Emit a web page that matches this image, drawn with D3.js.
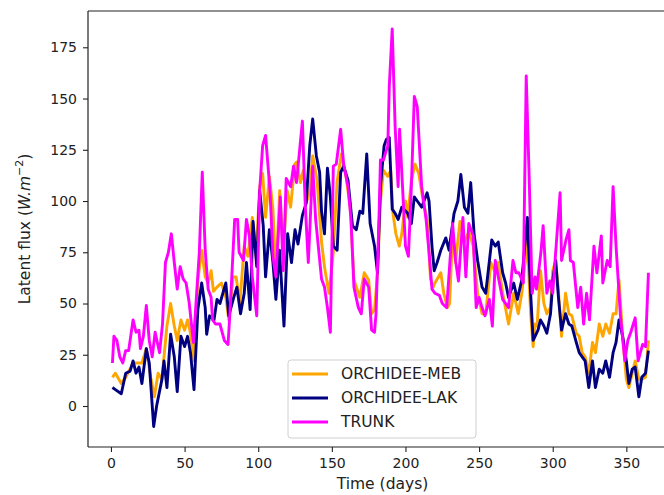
<!DOCTYPE html>
<html>
<head>
<meta charset="utf-8">
<script src="https://cdn.jsdelivr.net/npm/d3@7"></script>
<style>
  body { margin: 0; background: #fff; }
  text { font-family: "DejaVu Sans", sans-serif; fill: #222; }
</style>
</head>
<body>
<div id="chart"></div>
<script>
var width = 664,
    height = 495;

// ORCHIDEE-MEB (orange)
var mebDays = [1,3,7,10,15,18,21,24,27,29.5,32,34.6,36.4,38,40.5,43,45,47.5,50,52,54,56.4,59,61.6,64,66,68,69.6,72,75,78,80,83,85,87.5,90.5,93,96,98.5,101,103,105,107.6,110,112,114.6,117,119.7,122,124.8,126,128.7,130.6,133,135,137,140,143,145,148,151,153.5,156.5,159.6,162.6,165,169,172,175,177,179,181,183,185,188,190,191.5,193.5,195.8,197.5,200,201.5,204,206.5,209,212,214.7,217,218.8,220,224,226,228.5,230,232,234,237,240,243,246,249,252,254.5,258,261,263,266,270,273.5,276.6,279,282.8,285,286.7,288,289.4,291.7,294,296,298.5,300,302,304,306,308.7,311,313,316,318,320,322,324.5,327,329,331.6,334,336,338.6,341,343,345,347.5,350,351.7,354,356,358.5,360.5,363,365];
var mebVals = [14,16,11,14,21,21,21,28,14,4.5,16,13,27,39,50,39,32,42,37,42,35.5,22,61.5,76,63,60,66,56,58,60,53,42,63,63,50,78,73,92,73,107,113.5,92,112,96,63,105,76,105,97,118,119,109,115,100,105,122,110,80,68,55,75,109,123,112,96,61.5,53,65,61.5,45,47,65,100,115,112,115,94,84,78,84,100,92,110,118,113.5,100,91,62,58,60,65,55,48,50,85,70,90,80,85,78,55,45,45,70,65,70,55,40,55,45,55,80,45,29,40,39,66,50,45,48,66,71,55,34,55,45,44,35.5,34,26,24,16,31,26,40,34,40,35.5,45,45,61.5,34,13,9,16,22,13,13,14,32];

// ORCHIDEE-LAK (navy)
var lakDays = [1,3,7,10,13,15,17,19,21,24,26,29,31,34.6,36,38,40.5,43,45,47.5,50,52,54,56.4,59,61.6,64,65,67,70,72,74,78,80,83,85.5,88,90.5,92,94.5,96.5,99,101,103.4,105,107.6,110,112,114.5,117.5,120,122.6,125,127,130,132.6,135,137,139.5,141.7,143,145,147,149,151,153.6,156,158,161,164,166.6,169,171,173.7,176,179,181,183,185.5,187,189,191,193,195,197.5,201.5,204,206,208,211,214.7,216,218,219.5,221.5,224,227.4,229.6,233,235.6,237.6,240,242.4,244.3,246.6,249,252,254.5,258.6,261,263,266,268,270,273.5,276,279,282.8,285,286.7,288,290,291.7,294,296,298.5,300.3,302,304,306,308.7,311,313,316,318,320,322,324.5,327,329,331.6,334,336,338.6,341,343,345,347.5,350,351.7,354,356,358.5,360.5,363,365];
var lakVals = [9,8,6,16,17,22,16,19,11,28,21,-10,0,13,22,9,35,24,7,34,29,34,26,8,47,60,48,35,44,42,52,50,60,44,52,58,45,55,70,47,90,68,105,88,63,86,70,52,76,39,84,70,86,79,93,99,127,140,122,114,95,84,116,102,78,76,114,117,110,88,86,95,94,123,89,78,65,107,127,130,131,96,94,91,97,94,89,102,100,97,104,100,78,66,70,76,82,76,94,100,113,97,94,109,84,71,58,55,81,78,80,65,60,53,60,52,61.5,92,55,32,34,37,42,39,35.5,45,63,71,52,37,45,40,39,31,26,24,22,9,22,9,18,16,22,14,26,31,42,34,22,11,18,19,4.5,14,16,27];

// TRUNK (magenta)
var trunkDays = [1,2,4,6,8,10,12,15,17,19,20,22,24,26,28,30,33,35,37,39,41,43,45,47,49,51,53,56,57,60,62,64,66,68,69,71,74,77,79.5,81,84,86,87,90,92,94,96,99,101,103,105,108,110,112,115,117,119,122,124,126,130,132,134,137,139,143,145,147,149,151,153,156,158,161,163,165,168,170,172,175,177,179,180,182,183,185,188,189,191,193,195,196,198,200,202,204,206,208,211,214,216,218,220,223,225,228,232,234,236,239,241,243,246,248,250,252,254,257,259,261,263,266,268,270,273,275,277,280,282,284,286,288,289,292,293.5,296,298,300,302,305,306,309,311,312,314,317,319,321,323,325,328,330,333,334,337,339,341,343,346,349,351,353,356,358,361,363,365];
var trunkVals = [21,34,32,24,21,27,27,42,36,37,28,34,49,32,24,36,26,40,70,75,84,70,57,68,62,60,51,31,42,75,114,76,57,53,42,40,40,32,30,48,91,91,75,71,91,83,63,44,105,127,132,105,73,63,102,66,111,107,117,109,139,97,70,117,91,62,58,48,36,117,118,135,118,107,91,58,48,45,62,58,37,36,45,91,120,120,127,156,184,136,107,135,107,78,73,107,151,146,107,91,75,57,55,54,50,48,89,71,61,92,63,89,83,48,53,48,44,52,39,71,63,52,50,48,71,65,65,60,161,112,55,63,57,75,88,55,61,55,75,104,71,81,86,71,70,48,58,40,55,42,78,65,83,60,71,68,107,78,44,22,32,36,43,22,30,29,65];

var seriesNames = ["ORCHIDEE-MEB", "ORCHIDEE-LAK", "TRUNK"];
var seriesColors = ["#ffa500", "#000080", "#ff00ff"];
var xTicks = [0, 50, 100, 150, 200, 250, 300, 350];
var yTicks = [0, 25, 50, 75, 100, 125, 150, 175];

var series = [
    {name: seriesNames[0], color: seriesColors[0], pts: d3.zip(mebDays, mebVals)},
    {name: seriesNames[1], color: seriesColors[1], pts: d3.zip(lakDays, lakVals)},
    {name: seriesNames[2], color: seriesColors[2], pts: d3.zip(trunkDays, trunkVals)}
];

var plotL = 88, plotT = 11, plotB = 447, plotR = 677;

var svg = d3.select("#chart")
    .append("svg")
    .attr("width", width)
    .attr("height", height);

var x = d3.scaleLinear().domain([-15.6, 384.4]).range([plotL, plotR]);
var y = d3.scaleLinear().domain([-20, 192.7]).range([plotB, plotT]);

svg.append("defs").append("clipPath").attr("id", "plot")
    .append("rect")
    .attr("x", plotL).attr("y", plotT)
    .attr("width", plotR - plotL).attr("height", plotB - plotT);

var line = d3.line()
    .x(function(d) { return x(d[0]); })
    .y(function(d) { return y(d[1]); });

svg.append("g")
    .attr("clip-path", "url(#plot)")
    .selectAll("path")
    .data(series)
    .enter()
    .append("path")
    .attr("d", function(d) { return line(d.pts); })
    .attr("fill", "none")
    .attr("stroke", function(d) { return d.color; })
    .attr("stroke-width", 2.9)
    .attr("stroke-linejoin", "round");

// axes
var xAxis = svg.append("g")
    .attr("transform", "translate(0," + plotB + ")")
    .call(d3.axisBottom(x).tickValues(xTicks).tickSize(5).tickPadding(6));
var yAxis = svg.append("g")
    .attr("transform", "translate(" + plotL + ",0)")
    .call(d3.axisLeft(y).tickValues(yTicks).tickSize(5).tickPadding(6));

[xAxis, yAxis].forEach(function(a) {
    a.select(".domain").remove();
    a.selectAll("line").attr("stroke", "#222").attr("stroke-width", 1.1);
    a.selectAll("text").style("font-size", "14px").style("font-family", "DejaVu Sans").attr("fill", "#222");
});

// spines
svg.append("line").attr("x1", plotL).attr("x2", plotL).attr("y1", plotT).attr("y2", plotB)
    .attr("stroke", "#222").attr("stroke-width", 1.2);
svg.append("line").attr("x1", plotL).attr("x2", width).attr("y1", plotT).attr("y2", plotT)
    .attr("stroke", "#222").attr("stroke-width", 1.2);
svg.append("line").attr("x1", plotL).attr("x2", width).attr("y1", plotB).attr("y2", plotB)
    .attr("stroke", "#222").attr("stroke-width", 1.2);

// labels
svg.append("text")
    .attr("x", (plotL + plotR) / 2)
    .attr("y", 489)
    .attr("text-anchor", "middle")
    .style("font-size", "15.5px")
    .text("Time (days)");

var yl = svg.append("text")
    .attr("transform", "translate(30," + ((plotT + plotB) / 2) + ") rotate(-90)")
    .attr("text-anchor", "middle")
    .style("font-size", "15.5px");
yl.append("tspan").text("Latent flux (");
yl.append("tspan").style("font-style", "italic").text("W.m");
yl.append("tspan").attr("dy", -7).style("font-size", "11px").text("\u22122");
yl.append("tspan").attr("dy", 7).text(")");

// legend
var lg = svg.append("g").attr("transform", "translate(288,360)");
lg.append("rect")
    .attr("width", 188).attr("height", 78)
    .attr("rx", 3)
    .attr("fill", "#fff")
    .attr("fill-opacity", 0.85)
    .attr("stroke", "#d0d0d0");
var item = lg.selectAll("g.item")
    .data(series)
    .enter()
    .append("g")
    .attr("class", "item")
    .attr("transform", function(d, i) { return "translate(0," + (14 + i * 24) + ")"; });
item.append("line")
    .attr("x1", 4).attr("x2", 40)
    .attr("stroke", function(d) { return d.color; })
    .attr("stroke-width", 2.9);
item.append("text")
    .attr("x", 53)
    .attr("dy", "0.35em")
    .style("font-size", "15.5px")
    .text(function(d) { return d.name; });
</script>
</body>
</html>
